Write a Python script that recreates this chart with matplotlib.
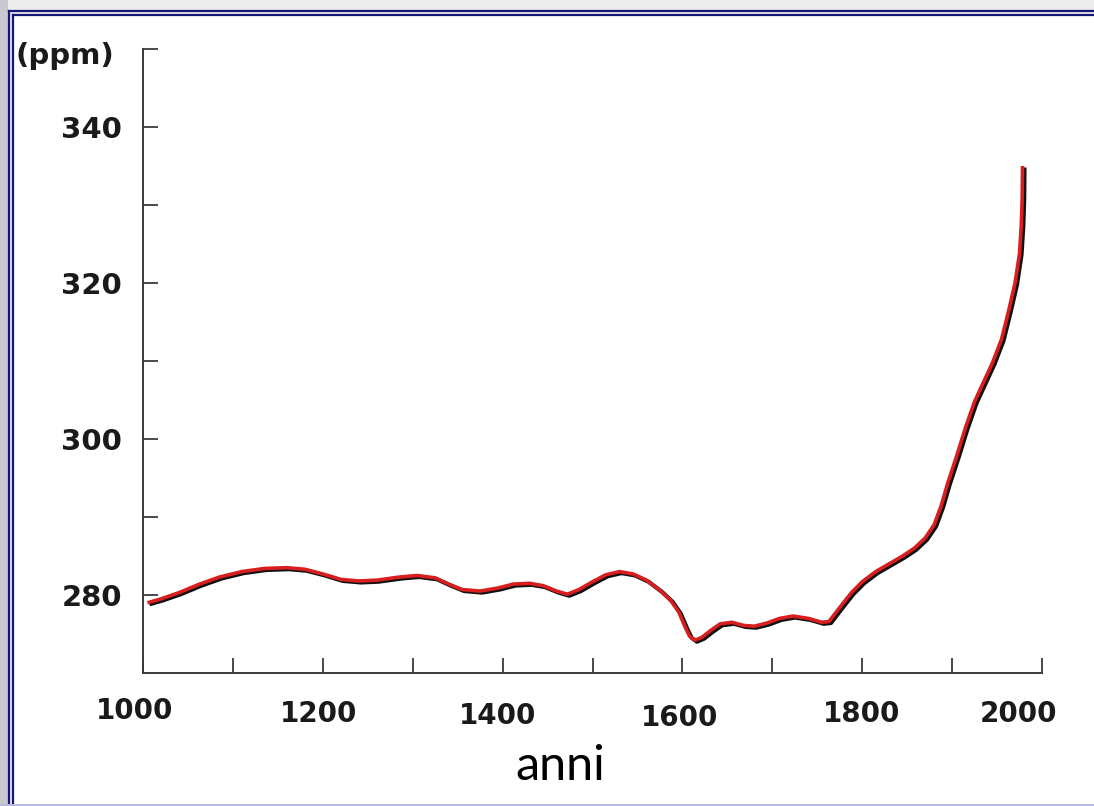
"""
Atmospheric CO2 over the last millennium (ice core record), redrawn.
Out: out.png
"""
import matplotlib
matplotlib.use("Agg")
import matplotlib.pyplot as plt
from matplotlib.lines import Line2D
from matplotlib.patches import Rectangle
from matplotlib.transforms import ScaledTranslation, offset_copy

# CO2 (ppm)
YEARS = [1005, 1020, 1040, 1063, 1085, 1110, 1135, 1160, 1180, 1200, 1220,
         1240, 1260, 1285, 1305, 1325, 1340, 1355, 1375, 1395, 1412, 1430,
         1445, 1460, 1472, 1485, 1500, 1515, 1530, 1545, 1560, 1575, 1587,
         1596, 1603, 1608, 1614, 1622, 1632, 1642, 1655, 1668, 1680, 1694,
         1708, 1723, 1740, 1755, 1763, 1775, 1788, 1800, 1815, 1830, 1845,
         1858, 1870, 1880, 1888, 1895, 1905, 1915, 1925, 1935, 1945, 1955,
         1963, 1970, 1975, 1977, 1978, 1978.3]
CO2 = [279.0, 279.5, 280.3, 281.4, 282.3, 283.0, 283.4, 283.5, 283.3, 282.7,
       282.0, 281.8, 281.9, 282.3, 282.5, 282.2, 281.4, 280.7, 280.5, 280.9,
       281.4, 281.5, 281.2, 280.5, 280.1, 280.7, 281.7, 282.6, 283.0, 282.7,
       281.9, 280.6, 279.3, 277.8, 275.9, 274.7, 274.2, 274.6, 275.5, 276.3,
       276.5, 276.1, 276.0, 276.4, 277.0, 277.3, 277.0, 276.5, 276.6, 278.4,
       280.3, 281.7, 283.0, 284.0, 285.0, 286.0, 287.3, 289.0, 291.5, 294.3,
       297.8, 301.5, 304.8, 307.3, 309.8, 312.8, 316.5, 320.0, 323.8, 327.5,
       331.0, 335.0]

X_LABELS = ["1000", "1200", "1400", "1600", "1800", "2000"]
X_MAJOR = [1000, 1200, 1400, 1600, 1800, 2000]
X_MINOR = [1100, 1300, 1500, 1700, 1900]
Y_MAJOR = [280, 300, 320, 340]
Y_MINOR = [290, 310, 330, 350]

# pixel nudges of the hand-set x labels in the original
X_NUDGE = [(-8, 0), (-4, -3), (-5, -5), (-3, -7), (-1, -3), (-23, -3)]

W, H = 1094, 806
fig = plt.figure(figsize=(W / 100, H / 100), dpi=100, facecolor="#ececec")

# slide-like frame: white panel, double navy rule on top and left
fig.add_artist(Rectangle((14 / W, 0), 1, 1 - 16 / H, transform=fig.transFigure,
                         facecolor="white", edgecolor="none", zorder=-5))
fig.add_artist(Rectangle((0, 0), 8 / W, 1, transform=fig.transFigure,
                         facecolor="#c9c9cf", edgecolor="none", zorder=-5))
navy = "#15157a"
for px in (9, 13):
    fig.add_artist(Line2D([px / W, px / W], [0, 1 - (px + 2) / H],
                          transform=fig.transFigure, color=navy, lw=1.6))
    fig.add_artist(Line2D([px / W, 1], [1 - (px + 2) / H, 1 - (px + 2) / H],
                          transform=fig.transFigure, color=navy, lw=1.6))
fig.add_artist(Line2D([0, 1], [1.5 / H, 1.5 / H], transform=fig.transFigure,
                      color="#b9b9dd", lw=1.5))

ax = fig.add_axes([143 / W, (H - 673) / H, 899 / W, 624 / H])
ax.set_facecolor("white")
ax.set_xlim(1000, 2000)
ax.set_ylim(270, 350)

# black trace sits a couple of pixels right/below the red one
shadow = offset_copy(ax.transData, fig=fig, x=2, y=-1.5, units="dots")
ax.plot(YEARS, CO2, color="#111111", lw=3.0, solid_joinstyle="round",
        solid_capstyle="butt", transform=shadow)
ax.plot(YEARS, CO2, color="#d81e1e", lw=2.6, solid_joinstyle="round",
        solid_capstyle="butt")

for s in ("top", "right"):
    ax.spines[s].set_visible(False)
for s in ("left", "bottom"):
    ax.spines[s].set_color("#3a3a3a")
    ax.spines[s].set_linewidth(1.4)

ax.set_xticks(X_MAJOR, X_LABELS)
ax.set_xticks(X_MINOR, minor=True)
ax.set_yticks(Y_MAJOR, [str(v) for v in Y_MAJOR])
ax.set_yticks(Y_MINOR, minor=True)
ax.tick_params(which="both", direction="in", length=11, width=1.3,
               color="#3a3a3a")
ax.tick_params(axis="x", which="major", pad=17)
ax.tick_params(axis="y", which="major", pad=15)
for lab in ax.get_xticklabels() + ax.get_yticklabels():
    lab.set_fontfamily("DejaVu Sans")
    lab.set_fontweight("bold")
    lab.set_fontsize(20)
    lab.set_color("#1a1a1a")
for lab in ax.get_yticklabels():
    lab.set_fontsize(21)
for lab, (dx, dy) in zip(ax.get_xticklabels(), X_NUDGE):
    lab.set_transform(lab.get_transform()
                      + ScaledTranslation(dx / 100, dy / 100, fig.dpi_scale_trans))

fig.text(15 / W, 1 - 56 / H, "(ppm)", family="DejaVu Sans", weight="bold",
         fontsize=21, color="#1a1a1a", ha="left", va="center")
fig.text(560 / W, (H - 780) / H, "anni", family="Lato", fontsize=35,
         color="black", ha="center", va="baseline")

fig.savefig("out.png", dpi=100, facecolor=fig.get_facecolor())
